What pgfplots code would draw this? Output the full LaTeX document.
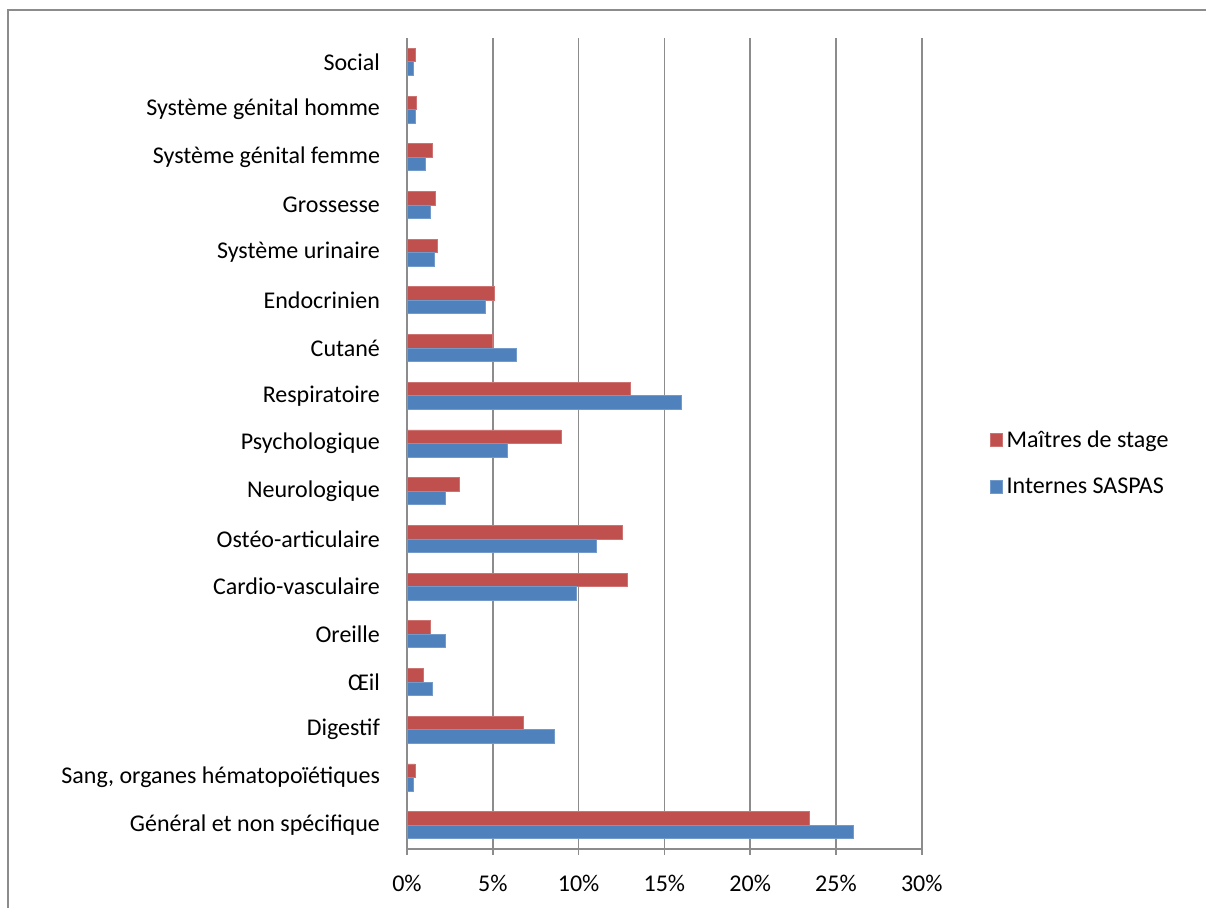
\documentclass[border=0pt]{standalone}
\usepackage{fontspec}
\setmainfont{Carlito}
\usepackage{pgfplots}
\pgfplotsset{compat=1.18}
\definecolor{exred}{HTML}{C0504D}
\definecolor{exblue}{HTML}{4F81BD}
\definecolor{gridg}{HTML}{8C8C8C}
\begin{document}
\begin{tikzpicture}
\path[use as bounding box] (-203.5pt,-29.5pt) rectangle ++(603pt,454pt);
\draw[gridg, line width=1.2pt] (-199.5pt,-29.5pt) -- (-199.5pt,419.5pt) -- (399.5pt,419.5pt);
\begin{axis}[
  at={(0pt,0pt)}, anchor=south west,
  scale only axis,
  width=257.4pt, height=405.5pt,
  xmin=0, xmax=30,
  ymin=-0.5, ymax=16.5,
  xbar, bar width=6.75pt,
  axis x line*=bottom, axis y line*=left,
  axis line style={gridg, line width=0.8pt},
  xtick={0,5,...,30},
  xticklabels={0\%,5\%,10\%,15\%,20\%,25\%,30\%},
  xmajorgrids, major grid style={gridg, line width=0.8pt},
  x tick style={gridg, line width=0.8pt},
  xtick align=outside, major tick length=3pt,
  ytick={0,...,16},
  yticklabels={Général et non spécifique, {Sang, organes hématopoïétiques}, Digestif, Œil, Oreille, Cardio-vasculaire, Ostéo-articulaire, Neurologique, Psychologique, Respiratoire, Cutané, Endocrinien, Système urinaire, Grossesse, Système génital femme, Système génital homme, Social},
  y tick style={draw=none},
  minor ytick={-0.5,0.5,...,16.5},
  minor y tick style={gridg, line width=0.8pt},
  minor tick length=3pt,
  ytick align=outside,
  yticklabel style={font=\fontsize{12}{14}\selectfont, xshift=-7pt},
  xticklabel style={font=\fontsize{12}{14}\selectfont, yshift=-6.5pt},
  legend style={draw=none, fill=none, inner sep=0pt, at={(1.1315,0.475)}, anchor=west, font=\fontsize{12}{14}\selectfont, row sep=10pt, legend cell align=left},
  legend image code/.code={\fill[#1] (-1.5pt,-2.8pt) rectangle (4.5pt,3.7pt);},
  clip=false,
]
\addplot[fill=exred, draw=exred!80!white, bar shift=3.375pt] coordinates {
(23.47,0) (0.47,1) (6.8,2) (0.97,3) (1.36,4) (12.86,5) (12.55,6) (3.05,7) (8.97,8) (13.0,9) (4.95,10) (5.09,11) (1.8,12) (1.65,13) (1.5,14) (0.54,15) (0.47,16)
};
\addlegendentry{Maîtres de stage}
\addplot[fill=exblue, draw=exblue!80!white, bar shift=-3.375pt] coordinates {
(26.0,0) (0.37,1) (8.6,2) (1.5,3) (2.23,4) (9.87,5) (11.05,6) (2.23,7) (5.83,8) (16.0,9) (6.35,10) (4.56,11) (1.57,12) (1.36,13) (1.05,14) (0.47,15) (0.37,16)
};
\addlegendentry{Internes SASPAS}
\end{axis}
\end{tikzpicture}
\end{document}
